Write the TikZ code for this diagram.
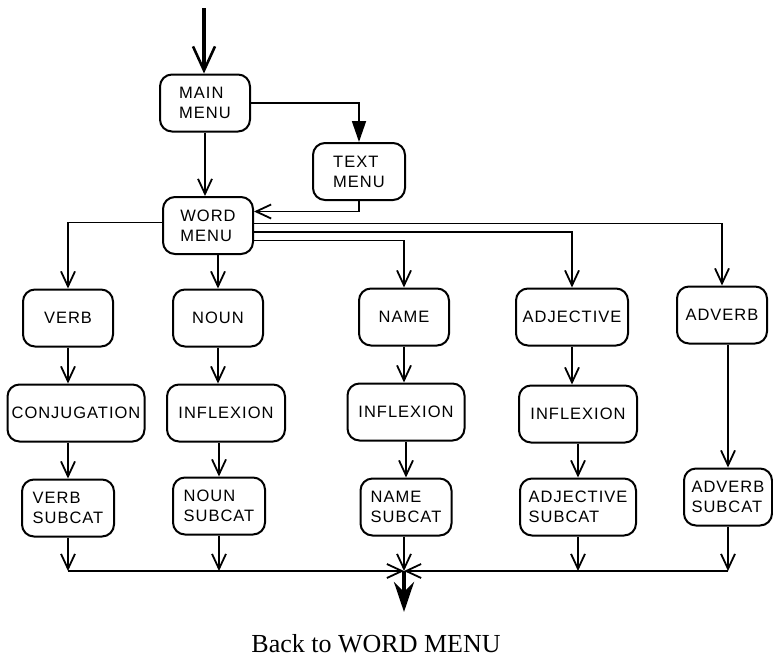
\documentclass[tikz,border=0pt]{standalone}
\usepackage{fontspec}
\setmainfont{Liberation Serif}
\newfontfamily\boxfont[LetterSpace=6]{Liberation Sans}
\usetikzlibrary{positioning,calc,arrows.meta}
\tikzset{
  menuBox/.style={
    rectangle,
    rounded corners=12pt,
    draw=black,
    line width=2pt,
    minimum width=90pt,
    minimum height=57pt,
    inner sep=3pt,
    align=left,
    font=\fontsize{16.5}{20}\boxfont
  },
  arrowLine/.style={
    -{Straight Barb[length=15pt,width=14pt]},
    line width=1.8pt
  },
  fillArrow/.style={
    -{Triangle[length=21pt,width=14pt]},
    line width=1.8pt
  },
  entryArrow/.style={
    -{Straight Barb[length=24pt,width=22pt,line width=2.6pt]},
    line width=4.5pt
  },
  exitArrow/.style={
    -{Stealth[length=30pt,width=20pt,inset=10pt]},
    line width=4.5pt
  },
  backLabel/.style={
    font=\fontsize{26}{30}\selectfont
  }
}
\begin{document}
\begin{tikzpicture}[x=1pt,y=-1pt,node distance=36pt]
        \useasboundingbox (0,0) rectangle (773,657);

        \node[menuBox] (main) at (205,103) {MAIN\\MENU};
        \node[menuBox, minimum width=92pt] (text) at (359,171.5) {TEXT\\MENU};
        \node[menuBox] (word) at (208,225.5) {WORD\\MENU};

        \node[menuBox] (verb) at (68,318) {VERB};
        \node[menuBox] (noun) at (218,318) {NOUN};
        \node[menuBox] (name) at (404,317) {NAME};
        \node[menuBox, minimum width=112pt] (adj) at (572,317) {ADJECTIVE};
        \node[menuBox] (adverb) at (722,315) {ADVERB};

        \node[menuBox, minimum width=137pt, below=of verb, xshift=8pt] (conj) {CONJUGATION};
        \node[menuBox, minimum width=118pt, below=of noun, xshift=8pt] (nounInf) {INFLEXION};
        \node[menuBox, minimum width=117pt, below=of name, xshift=2pt] (nameInf) {INFLEXION};
        \node[menuBox, minimum width=118pt, below=38pt of adj, xshift=6pt] (adjInf) {INFLEXION};

        \node[menuBox, minimum width=92pt, below=of conj, xshift=-8pt] (verbSub) {VERB\\SUBCAT};
        \node[menuBox, minimum width=92pt, below=34pt of nounInf, xshift=-7pt] (nounSub) {NOUN\\SUBCAT};
        \node[menuBox, minimum width=91pt, below=of nameInf] (nameSub) {NAME\\SUBCAT};
        \node[menuBox, minimum width=116pt, below=34pt of adjInf] (adjSub) {ADJECTIVE\\SUBCAT};
        \node[menuBox, minimum width=88pt, below=123pt of adverb, xshift=6pt] (advSub) {ADVERB\\SUBCAT};

        \coordinate (entry) at (204,8);
        \coordinate (merge) at (404,571);
        \coordinate (exit) at (404,612);

        \draw[entryArrow] (entry) -- (entry |- main.north);
        \draw[arrowLine] (main.south) -- (main.south |- word.north);
        \draw[fillArrow] (main.east) -| (text.north);
        \draw[arrowLine] (text.south) |- ([yshift=14pt]word.east);

        \draw[arrowLine] ([yshift=3pt]word.west) -| (verb.north);
        \draw[arrowLine] (word.south -| noun.north) -- (noun.north);
        \draw[arrowLine] ([yshift=2pt]word.east) -| (adverb.north);
        \draw[arrowLine] ([yshift=-6.5pt]word.east) -| (adj.north);
        \draw[arrowLine] ([yshift=-15pt]word.east) -| (name.north);

        \draw[arrowLine] (verb.south) -- (verb.south |- conj.north);
        \draw[arrowLine] (noun.south) -- (noun.south |- nounInf.north);
        \draw[arrowLine] (name.south) -- (name.south |- nameInf.north);
        \draw[arrowLine] (adj.south) -- (adj.south |- adjInf.north);

        \draw[arrowLine] (verbSub.north |- conj.south) -- (verbSub.north);
        \draw[arrowLine] (nounSub.north |- nounInf.south) -- (nounSub.north);
        \draw[arrowLine] (nameSub.north |- nameInf.south) -- (nameSub.north);
        \draw[arrowLine] (adjSub.north |- adjInf.south) -- (adjSub.north);
        \draw[arrowLine] (adverb.south -| advSub.north) -- (advSub.north);

        \draw[arrowLine] (verbSub.south) -- (verbSub.south |- merge);
        \draw[arrowLine] (nounSub.south) -- (nounSub.south |- merge);
        \draw[arrowLine] (nameSub.south -| merge) -- (merge);
        \draw[arrowLine] (adjSub.south) -- (adjSub.south |- merge);
        \draw[arrowLine] (advSub.south) -- (advSub.south |- merge);
        \draw[arrowLine] (verbSub.south |- merge) -- (merge);
        \draw[arrowLine] (advSub.south |- merge) -- (merge);
        \draw[exitArrow] (merge) -- (exit);

        \node[backLabel] (back) at (376,644) {Back to WORD MENU};

    \end{tikzpicture}
\end{document}
